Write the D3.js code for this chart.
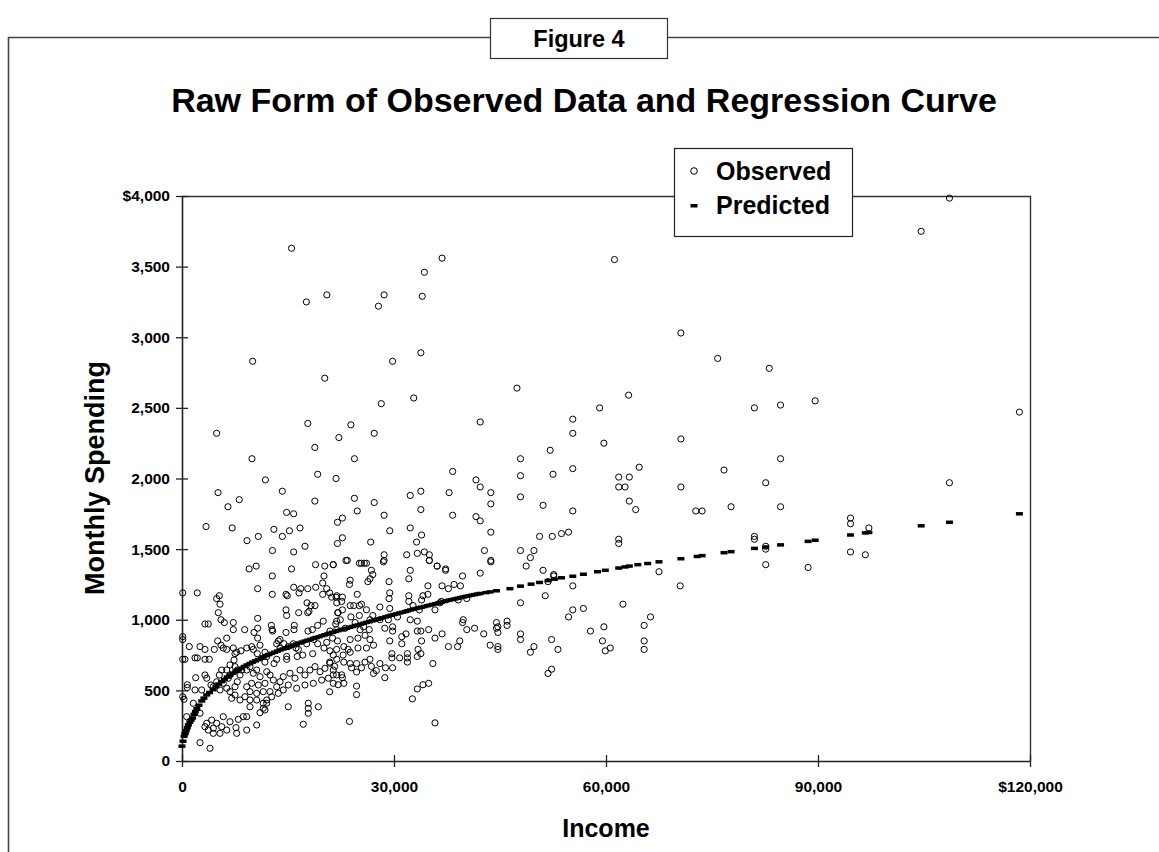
<!DOCTYPE html>
<html><head><meta charset="utf-8">
<script src="https://cdn.jsdelivr.net/npm/d3@7"></script>
<style>
html,body{margin:0;padding:0;background:#fff;}
svg{display:block;font-family:"Liberation Sans",Arial,sans-serif;}
</style></head>
<body>
<svg id="c" width="1159" height="852"></svg>
<script>
const figureLabel = "Figure 4";
const chartTitle = "Raw Form of Observed Data and Regression Curve";
const xAxisTitle = "Income";
const yAxisTitle = "Monthly Spending";
const seriesNames = ["Observed", "Predicted"];
const xTickValues = [0, 30000, 60000, 90000, 120000];
const xTickLabels = ["0", "30,000", "60,000", "90,000", "$120,000"];
const yTickValues = [0, 500, 1000, 1500, 2000, 2500, 3000, 3500, 4000];
const yTickLabels = ["0", "500", "1,000", "1,500", "2,000", "2,500", "3,000", "3,500", "$4,000"];

// Observed: [income, monthly spending]
const observedPoints = [
[15500,3630],[36800,3560],[34300,3460],[20500,3300],[28600,3300],[34000,3290],[17600,3250],[27800,3220],[10000,2830],[29800,2830],[33800,2890],[20200,2710],
[4900,2320],[17800,2390],[22200,2290],[18800,2220],[9900,2140],[19200,2030],[21800,2000],[11800,1990],[5100,1900],[14200,1910],[8100,1850],[6500,1800],[18800,1840],[14800,1760],[15800,1750],[22000,1690],[3400,1660],[7100,1650],[13000,1640],[16700,1650],[15200,1630],[14200,1590],[10800,1590],[9200,1560],[22000,1540],[17400,1520],[12800,1490],[15800,1480],[18900,1390],[20200,1380],[21400,1390],[10500,1380],[9500,1360],[15500,1360],
[32800,2570],[28200,2530],[42200,2400],[23900,2380],[27200,2320],[24400,2140],[38300,2050],[41600,1990],[42200,1940],[43700,1900],[43700,1820],[32300,1880],[33800,1910],[37800,1900],[24400,1860],[27200,1830],[24800,1770],[28600,1740],[33800,1780],[38300,1740],[41600,1730],[42200,1700],[22700,1720],[29400,1630],[32300,1650],[33900,1600],[33200,1550],[43700,1620],[22700,1580],[26700,1550],[42800,1490],[43700,1420],[28600,1460],[28600,1420],[31800,1460],[33300,1470],[34300,1480],[35000,1460],[35000,1420],[23400,1420],[25400,1400],[26100,1400],[36100,1380],[37300,1360],
[108600,3985],[104600,3750],[61200,3550],[70600,3030],[75800,2850],[83100,2780],[47400,2640],[63200,2590],[59100,2500],[81000,2500],[84700,2520],[89600,2550],[118500,2470],[55300,2420],[55300,2320],[59700,2250],[70600,2280],[47900,2140],[52100,2200],[84700,2140],[47900,2020],[52500,2030],[55300,2070],[64700,2080],[61800,2010],[61800,1940],[62700,1940],[63300,2010],[76700,2060],[82600,1970],[108600,1970],[70600,1940],[47900,1870],[51100,1810],[55300,1770],[63300,1840],[64200,1780],[72700,1770],[73600,1770],[77700,1800],[84700,1800],
[50600,1590],[52400,1590],[53700,1610],[54700,1620],[61800,1570],[61800,1540],[81000,1590],[81000,1570],[94600,1720],[94600,1680],[97200,1650],[47900,1490],[49800,1490],[49300,1440],[48700,1380],[82600,1520],[82600,1500],[94600,1480],[96700,1460],[82600,1390],[88600,1370],[51100,1350],[52600,1320],[52600,1310],[51800,1270],[67500,1340],[55300,1240],[70500,1240],[51400,1170],[47900,1120],[62400,1110],[55300,1070],[56800,1080],[54700,1020],[46000,990],[46000,960],[44700,950],[44700,910],[59700,950],[65400,960],[66300,1020],[57800,920],[47900,900],[47900,860],[52300,860],[53200,790],[49800,810],[49300,770],[59500,850],[60600,800],[59900,780],[65400,850],[65400,790],[43600,820],[44700,810],[44700,790],[51800,620],[52300,650],
[21400,1390],[23200,1420],[25100,1400],[25800,1400],[28500,1410],[35000,1420],[36100,1380],[37300,1350],[43700,1410],[26800,1350],[27000,1320],[26600,1290],[26300,1270],[32300,1350],[32100,1290],[23800,1280],[23700,1250],[29300,1270],[39700,1310],[42200,1330],[34800,1240],[36800,1240],[37700,1220],[38500,1250],[39400,1240],
[20900,1190],[21900,1170],[22700,1160],[22600,1130],[24800,1180],[29400,1190],[29300,1150],[32100,1170],[32100,1130],[34100,1170],[34800,1180],[33900,1140],[40300,1150],
[21900,1120],[22700,1070],[23800,1100],[24300,1100],[25100,1100],[25400,1110],[26100,1070],[27000,1030],[28000,1090],[29400,1080],[32700,1100],[33600,1070],[35800,1070],[36700,1130],[36500,1120],[39100,1140],
[22100,1050],[22400,1000],[23900,1020],[25100,1030],[26600,1000],[28000,1000],[29200,1000],[30500,1020],[32300,1000],[33300,990],[39800,1000],[39700,980],[40300,930],[41400,940],[42700,900],[44500,980],[44500,940],
[21900,930],[23100,940],[24500,980],[25200,930],[25700,950],[26500,930],[25900,890],[24900,870],[23800,860],[28700,940],[29800,950],[29800,920],[29400,850],[31100,880],[31700,900],[31100,830],[33300,920],[33800,920],[33900,850],[34900,930],[35800,870],[36800,900],[39000,810],[39300,850],[37700,810],
[22900,810],[23500,790],[24900,800],[26100,800],[26600,860],[27100,820],[22000,850],[21300,870],[22800,750],[23800,770],[21900,720],
[29700,760],[30800,730],[31900,760],[31900,730],[31900,700],[33400,790],[33300,740],[33800,760],[35500,690],[29700,730],
[20900,700],[21600,670],[22900,700],[23800,690],[24700,690],[24000,660],[24700,630],[25400,660],[25900,700],[26600,720],[26800,670],[27100,620],[27500,640],[28000,690],[28800,660],[29800,660],[21400,610],[22600,610],[22700,590],[21400,550],[22100,540],[22900,550],[20900,490],
[24700,530],[24700,470],[28700,590],[33300,510],[34100,540],[34900,550],[32600,440],[23700,280],[35800,270],
[12780,1310],[20090,1310],[18920,1230],[19910,1260],[20480,1220],[21790,1160],[21180,1160],[19910,1180],[17790,1220],[16800,1220],[15810,1230],[16560,1190],[14720,1180],[14900,1170],[12780,1180],[10710,1220],[100,1190],[2160,1190],[4910,1150],[5280,1170],[5380,1110],[5140,1050],[5520,1000],[5990,980],[7260,980],[7260,930],[8870,930],[10710,1010],[10710,940],[12740,930],[12640,960],[10190,910],[10710,870],
[14720,1070],[14810,1030],[16510,1050],[17690,1120],[18250,1100],[18820,1100],[17970,1060],[17790,1050],[22030,1050],[21890,990],[19990,990],[20940,920],[21750,970],[19200,960],[18440,930],[17830,920],[15890,960],[15850,930],[14720,910],[13870,860],[12830,920],[13630,850],
[3250,970],[3720,970],[5050,850],[5520,820],[6330,870],[5840,800],[4570,790],[3860,720],[3250,790],[2550,810],[1030,810],[100,860],[100,880],[6330,790],
[7260,800],[7500,760],[7740,770],[8350,780],[9160,800],[9860,810],[10090,790],[11040,820],[10650,760],[11740,770],[11990,740],[11740,700],[13400,830],[14430,830],[15040,810],[13870,800],[16130,800],[15750,830],[16460,790],[17640,830],[18680,860],[19200,830],[20480,840],[20090,800],[20940,780],[21890,790],[21410,750],[18490,760],[17080,750],[16310,740],[14810,740],[14810,720],[13400,720],[13020,690],
[100,720],[420,720],[1840,730],[2160,730],[3250,720],[1940,590],[750,540],[750,520],[100,455],[280,437],[1840,503],[2790,503],[3250,609],[3500,586],[4100,538],[4430,526],[4910,561],[5280,609],[5620,644],[6330,644],[6790,680],[7360,715],[7500,668],[7820,644],[6790,609],[6550,586],[5840,550],[5380,503],[6330,515],[6790,491],[7500,526],[7820,561],[8210,609],[8450,644],[9160,644],[9620,668],[10090,621],[10570,644],[11040,597],[11990,632],[12450,609],[12920,573],[11740,550],[10800,538],[9860,550],[9160,526],[9620,491],[10570,479],[11500,491],[12450,491],[13400,526],[13870,561],[14330,597],[15280,621],[15990,586],[16700,644],[17400,609],[18110,644],[18820,668],[19530,632],[20230,656],[20940,692],[21410,644],[21890,609],[20700,586],[19770,573],[18580,550],[17400,538],[16230,515],[15040,538],[14330,503],[13630,479],[12690,455],[11990,432],[11500,409],[10570,432],[9620,432],[8910,455],[8210,432],[7500,467],[7030,444],
[17870,409],[17870,373],[17870,338],[19290,384],[15040,384],[11990,409],[11740,361],[11040,342],[9620,384],[9160,314],[7970,295],[6790,278],[5840,314],[4910,267],[4430,232],[3720,219],[3250,243],[2550,338],[3500,267],[4200,290],[5620,243],[6330,219],[7740,196],[9160,219],[10570,255],[11500,373],[8670,314],[7640,236],[5380,196],[4430,196],[3960,90],[2550,130],[17160,260],[1600,409],[660,314],[420,196]
];

// Predicted (regression curve)
const predictedIncome = [
0,150,300,450,600,750,900,1100,1300,1500,1700,1900,2100,2400,2800,3100,3500,3900,4400,4800,5200,5600,6000,6400,6800,7200,7600,8000,8400,8800,9200,9600,10000,10400,10800,11200,11500,11900,12300,12700,13100,13500,13900,14300,14700,15100,15500,15900,16200,16600,17000,17400,17800,18200,18600,19000,19400,19800,20200,20600,20900,21300,21700,22100,22500,22900,23300,23700,24100,24500,24900,25300,25700,26100,26500,26900,27300,27700,28000,28400,28800,29200,29600,30000,30400,30800,31200,31600,31900,32300,32700,33100,33500,33900,34300,34700,35100,35500,35900,36300,36700,37100,37400,37800,38200,38600,39000,39400,39800,40200,40600,41000,41400,41800,42200,43000,43600,44500,46400,47900,49400,50600,51800,52700,53700,55300,56800,58800,59900,61800,62700,63300,64500,65900,67500,70600,72900,73600,76700,77700,81000,82600,84700,88600,89600,94600,96700,97200,104600,108600,118500
];
const predictedSpending = [
105,140,175,195,215,235,255,275,290,305,330,350,370,395,425,445,468,485,505,525,545,562,578,594,608,622,634,646,657,669,680,690,700,709,718,728,737,746,754,762,770,778,786,793,800,807,814,821,828,835,842,849,855,861,868,874,880,887,893,899,905,911,917,923,928,934,940,946,952,958,963,969,975,981,986,992,997,1003,1008,1014,1020,1026,1032,1037,1042,1048,1053,1058,1063,1069,1074,1079,1084,1089,1094,1099,1104,1109,1114,1119,1124,1129,1134,1139,1143,1147,1152,1157,1161,1166,1170,1174,1178,1182,1186,1192,1197,1205,1220,1238,1252,1264,1277,1287,1297,1308,1322,1340,1350,1366,1374,1380,1390,1398,1410,1432,1448,1454,1475,1482,1505,1515,1530,1555,1563,1600,1615,1618,1665,1690,1750
];

const W = 1159, H = 852;
const svg = d3.select("#c");
const FONT = '"Liberation Sans", Arial, Helvetica, sans-serif';

svg.append("rect").attr("width", W).attr("height", H).attr("fill", "#fff");

// outer frame (runs off the right and bottom edges)
svg.append("path")
  .attr("d", `M ${W + 5} 37.5 H 8.5 V ${H + 5}`)
  .attr("fill", "none").attr("stroke", "#444").attr("stroke-width", 1.6);

// figure label box
svg.append("rect").attr("x", 490.5).attr("y", 18.5).attr("width", 177).attr("height", 40)
  .attr("fill", "#fff").attr("stroke", "#333").attr("stroke-width", 1.2);
svg.append("text").attr("x", 579).attr("y", 47).attr("text-anchor", "middle")
  .attr("font-family", FONT).attr("font-weight", "bold").attr("font-size", 23.5)
  .text(figureLabel);

// title
svg.append("text").attr("x", 584).attr("y", 112).attr("text-anchor", "middle")
  .attr("font-family", FONT).attr("font-weight", "bold").attr("font-size", 34)
  .text(chartTitle);

const plot = {left: 182, right: 1030, top: 196, bottom: 761};
const x = d3.scaleLinear().domain([0, 120000]).range([plot.left, plot.right]);
const y = d3.scaleLinear().domain([0, 4000]).range([plot.bottom, plot.top]);

// plot frame (top and right)
svg.append("path")
  .attr("d", `M ${plot.left} ${plot.top + 0.5} H ${plot.right + 0.5} V ${plot.bottom}`)
  .attr("fill", "none").attr("stroke", "#333").attr("stroke-width", 1.4);

// axes
const xAxis = d3.axisBottom(x).tickValues(xTickValues)
  .tickFormat((d, i) => xTickLabels[i]).tickSizeInner(6).tickSizeOuter(0).tickPadding(14);
const gx = svg.append("g").attr("transform", `translate(0,${plot.bottom})`).call(xAxis);
gx.select(".domain").attr("stroke", "#222").attr("stroke-width", 1.6);
gx.selectAll(".tick line").attr("y1", -6).attr("y2", 6).attr("stroke", "#222").attr("stroke-width", 1.3);
gx.selectAll(".tick text").attr("font-family", FONT).attr("font-weight", "bold")
  .attr("font-size", 15.5).attr("fill", "#000");

const yAxis = d3.axisLeft(y).tickValues(yTickValues)
  .tickFormat((d, i) => yTickLabels[i]).tickSizeInner(6).tickSizeOuter(0).tickPadding(6);
const gy = svg.append("g").attr("transform", `translate(${plot.left},0)`).call(yAxis);
gy.select(".domain").attr("stroke", "#222").attr("stroke-width", 1.6);
gy.selectAll(".tick line").attr("x1", -6).attr("x2", 6).attr("stroke", "#222").attr("stroke-width", 1.3);
gy.selectAll(".tick text").attr("font-family", FONT).attr("font-weight", "bold")
  .attr("font-size", 15.5).attr("fill", "#000");

// axis titles
svg.append("text").attr("x", 606).attr("y", 837).attr("text-anchor", "middle")
  .attr("font-family", FONT).attr("font-weight", "bold").attr("font-size", 25)
  .text(xAxisTitle);
svg.append("text").attr("transform", "translate(104,478) rotate(-90)").attr("text-anchor", "middle")
  .attr("font-family", FONT).attr("font-weight", "bold").attr("font-size", 27)
  .text(yAxisTitle);

// observed points
svg.append("g").selectAll("circle").data(observedPoints).join("circle")
  .attr("cx", d => x(d[0])).attr("cy", d => y(d[1])).attr("r", 3.1)
  .attr("fill", "none").attr("stroke", "#000").attr("stroke-width", 1);

// predicted dashes
const pred = predictedIncome.map((v, i) => [v, predictedSpending[i]]);
svg.append("g").selectAll("rect").data(pred).join("rect")
  .attr("x", d => x(d[0]) - 3.5).attr("y", d => y(d[1]) - 1.75).attr("width", 7).attr("height", 3.5)
  .attr("fill", "#000");

// legend
const lg = svg.append("g");
lg.append("rect").attr("x", 674.5).attr("y", 148.5).attr("width", 178).attr("height", 88)
  .attr("fill", "#fff").attr("stroke", "#222").attr("stroke-width", 1.2);
lg.append("circle").attr("cx", 694).attr("cy", 171).attr("r", 3.3)
  .attr("fill", "none").attr("stroke", "#000").attr("stroke-width", 1);
lg.append("text").attr("x", 716).attr("y", 180).attr("font-family", FONT)
  .attr("font-weight", "bold").attr("font-size", 25).text(seriesNames[0]);
lg.append("rect").attr("x", 690.5).attr("y", 204).attr("width", 7).attr("height", 3.5).attr("fill", "#000");
lg.append("text").attr("x", 716).attr("y", 214).attr("font-family", FONT)
  .attr("font-weight", "bold").attr("font-size", 25).text(seriesNames[1]);
</script>
</body></html>
